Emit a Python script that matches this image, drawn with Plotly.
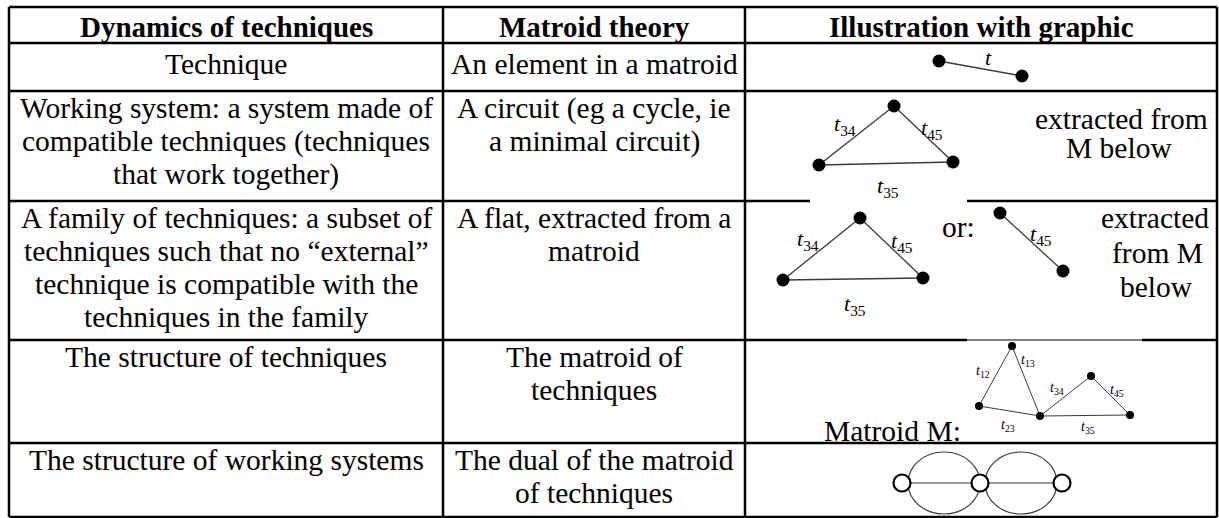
import plotly.graph_objects as go

W, H = 1219, 518

# table grid (pixel positions of the rules)
col_x = [9, 443, 745, 1217]
row_y = [7, 43, 91, 201, 340, 443, 517]

headers = ["Dynamics of techniques", "Matroid theory", "Illustration with graphic"]

col1_lines = [
    ["Technique"],
    ["Working system: a system made of", "compatible techniques (techniques", "that work together)"],
    ["A family of techniques: a subset of", "techniques such that no \u201cexternal\u201d",
     "technique is compatible with the", "techniques in the family"],
    ["The structure of techniques"],
    ["The structure of working systems"],
]
col2_lines = [
    ["An element in a matroid"],
    ["A circuit (eg a cycle, ie", "a minimal circuit)"],
    ["A flat, extracted from a", "matroid"],
    ["The matroid of", "techniques"],
    ["The dual of the matroid", "of techniques"],
]
first_line_y = [64, 108, 218, 357, 460]
line_gap = 33

# graphs in column 3
g1_x = [939, 1022]
g1_y = [61, 76]
g1_edges = [(0, 1)]
g1_labels = [("t", 988, 57)]

g2_x = [894, 819, 953]
g2_y = [106, 165, 162]
g2_edges = [(0, 1), (0, 2), (1, 2)]
g2_labels = [("34", 845, 125), ("45", 932, 129), ("35", 888, 187)]

g3_x = [860, 783, 923, 1000, 1063]
g3_y = [218, 280, 278, 213, 271]
g3_edges = [(0, 1), (0, 2), (1, 2), (3, 4)]
g3_labels = [("34", 808, 240), ("45", 902, 242), ("35", 855, 305), ("45", 1041, 235)]

m_x = [1012, 979, 1040, 1091, 1130]
m_y = [346, 406, 416, 376, 415]
m_edges = [(0, 1), (0, 2), (1, 2), (2, 3), (3, 4), (2, 4)]
m_labels = [("12", 983, 371), ("13", 1028, 360), ("34", 1057, 388), ("45", 1117, 390),
            ("23", 1008, 425), ("35", 1088, 427)]

dual_x = [902, 980, 1062]
dual_y = [483, 483, 483]
dual_edges = [(0, 1), (1, 2)]
dual_ellipses = [(944, 483, 36, 31), (1021, 483, 36, 31)]

side_text = [
    ("extracted from", 1121, 119), ("M below", 1119, 148),
    ("or:", 958, 227),
    ("extracted", 1155, 218), ("from M", 1157, 253), ("below", 1156, 287),
    ("Matroid M:", 892, 431),
]

FONT = "Liberation Serif"

fig = go.Figure()


def add_graph(xs, ys, edges, size, width, color="#3a3a3a", hollow=False):
    ex, ey = [], []
    for a, b in edges:
        ex += [xs[a], xs[b], None]
        ey += [ys[a], ys[b], None]
    fig.add_trace(go.Scatter(x=ex, y=ey, mode="lines", line=dict(color=color, width=width),
                             hoverinfo="skip", showlegend=False))
    if hollow:
        mk = dict(size=size, color="white", line=dict(color="black", width=2.2))
    else:
        mk = dict(size=size, color="black")
    fig.add_trace(go.Scatter(x=xs, y=ys, mode="markers", marker=mk,
                             hoverinfo="skip", showlegend=False))


for xc, yc, rx, ry in dual_ellipses:
    fig.add_shape(type="circle", x0=xc - rx, x1=xc + rx, y0=yc - ry, y1=yc + ry,
                  line=dict(color="#3a3a3a", width=1.2), layer="below")

add_graph(g1_x, g1_y, g1_edges, 13, 1.3)
add_graph(g2_x, g2_y, g2_edges, 13, 1.3)
add_graph(g3_x, g3_y, g3_edges, 13, 1.3)
add_graph(m_x, m_y, m_edges, 8, 1.0)
add_graph(dual_x, dual_y, dual_edges, 17, 1.2, hollow=True)

# table rules
for x in col_x:
    fig.add_shape(type="line", x0=x, x1=x, y0=row_y[0], y1=row_y[-1],
                  line=dict(color="black", width=2.5))
for y in row_y:
    if y == 201:
        segs = [(col_x[0], 810), (967, col_x[-1])]
    elif y == 340:
        segs = [(col_x[0], 967), (1142, col_x[-1])]
        fig.add_shape(type="line", x0=967, x1=1142, y0=y, y1=y,
                      line=dict(color="black", width=1))
    else:
        segs = [(col_x[0], col_x[-1])]
    for a, b in segs:
        fig.add_shape(type="line", x0=a, x1=b, y0=y, y1=y,
                      line=dict(color="black", width=2.5))

centers = [(col_x[i] + col_x[i + 1]) / 2 for i in range(3)]
for i, h in enumerate(headers):
    fig.add_annotation(x=centers[i], y=27, text="<b>" + h + "</b>", showarrow=False,
                       font=dict(family=FONT, size=29, color="black"))

for col, lines_by_row in enumerate([col1_lines, col2_lines]):
    for r, lines in enumerate(lines_by_row):
        for k, line in enumerate(lines):
            fig.add_annotation(x=centers[col], y=first_line_y[r] + k * line_gap, text=line,
                               showarrow=False, font=dict(family=FONT, size=29.5, color="black"))

for labels, fs in [(g1_labels, 22), (g2_labels, 22), (g3_labels, 22), (m_labels, 14)]:
    for sub, x, y in labels:
        txt = "<i>t</i>" if sub == "t" else "<i>t</i><sub>" + sub + "</sub>"
        fig.add_annotation(x=x, y=y, text=txt, showarrow=False,
                           font=dict(family=FONT, size=fs, color="black"))

for txt, x, y in side_text:
    fig.add_annotation(x=x, y=y, text=txt, showarrow=False,
                       font=dict(family=FONT, size=29.5, color="black"))

fig.update_layout(
    width=W, height=H,
    margin=dict(l=0, r=0, t=0, b=0),
    paper_bgcolor="white", plot_bgcolor="white",
    xaxis=dict(range=[0, W], visible=False, fixedrange=True),
    yaxis=dict(range=[H, 0], visible=False, fixedrange=True),
)

fig.write_html("out.html", config={"displayModeBar": False},
               post_script="document.body.style.margin='0';")
